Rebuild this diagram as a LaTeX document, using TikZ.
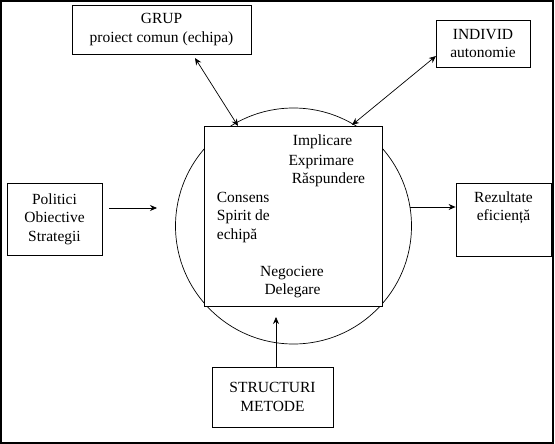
\documentclass[tikz,border=0pt]{standalone}
\usepackage{fontspec}
\setmainfont{Liberation Serif}
\usetikzlibrary{arrows.meta, positioning}
\newcommand{\dfont}{\fontsize{15.5}{18.5}\selectfont}
\tikzset{
  box/.style={draw, line width=0.8pt, inner sep=0pt, align=center, font=\dfont},
  txt/.style={inner sep=0pt, font=\dfont},
  tra/.style={-{Stealth[length=7pt, width=6pt]}, line width=0.7pt},
  dtra/.style={{Stealth[length=7pt, width=6pt]}-{Stealth[length=7pt, width=6pt]}, line width=0.7pt}
}

\begin{document}
\begin{tikzpicture}[x=1pt, y=-1pt]
		\useasboundingbox (0,0) rectangle (555,444);
		\draw[line width=1.3pt] (1,1) rectangle (553,443);
		% centre
		\node[draw, circle, line width=0.7pt, minimum size=236pt] (circ) at (293.5,226) {};
		\node[draw, fill=white, line width=0.8pt, minimum width=178pt, minimum height=180pt] (sq) at (293,216) {};
		\node[txt, anchor=base west] (impl) at (292.7,146) {Implicare};
		\node[txt, anchor=base west] (expr) at (288.3,165) {Exprimare};
		\node[txt, anchor=base west] (rasp) at (291.7,183.5) {Răspundere};
		\node[txt, anchor=base west] (cons) at (216.7,202) {Consens};
		\node[txt, anchor=base west] (spir) at (216.7,220.5) {Spirit de};
		\node[txt, anchor=base west] (echi) at (216.7,239) {echipă};
		\node[txt, anchor=base] (nego) at (292,276) {Negociere};
		\node[txt, anchor=base] (dele) at (292.5,294.5) {Delegare};
		% boxes
		\node[box, minimum width=179pt, minimum height=49pt] (grup) at (161.5,29.5) {GRUP\\proiect comun (echipa)};
		\node[box, minimum width=94pt, minimum height=47pt] (indiv) at (483,43.5) {INDIVID\\autonomie};
		\node[box, minimum width=95pt, minimum height=72pt] (pol) at (54.5,219) {Politici\\Obiective\\Strategii};
		\node[box, minimum width=95pt, minimum height=73pt, text depth=27pt] (rez) at (503.5,219.5) {Rezultate\\eficiență};
		\node[box, minimum width=121pt, minimum height=60pt] (str) at (272.5,397) {STRUCTURI\\METODE};
		% arrows
		\coordinate (g1) at (195,58);
		\coordinate (g2) at (238,126);
		\coordinate (i1) at (436,56);
		\coordinate (i2) at (352,125);
		\coordinate (p1) at (109,208);
		\coordinate (p2) at (157,208);
		\coordinate (r1) at (410,207);
		\coordinate (s1) at (276,367);
		\coordinate (s2) at (276,317);
		\draw[dtra] (g1) -- (g2);
		\draw[dtra] (i1) -- (i2);
		\draw[tra] (p1) -- (p2);
		\draw[tra] (r1) -- (rez.west |- r1);
		\draw[tra] (s1) -- (s2);
	\end{tikzpicture}
\end{document}
